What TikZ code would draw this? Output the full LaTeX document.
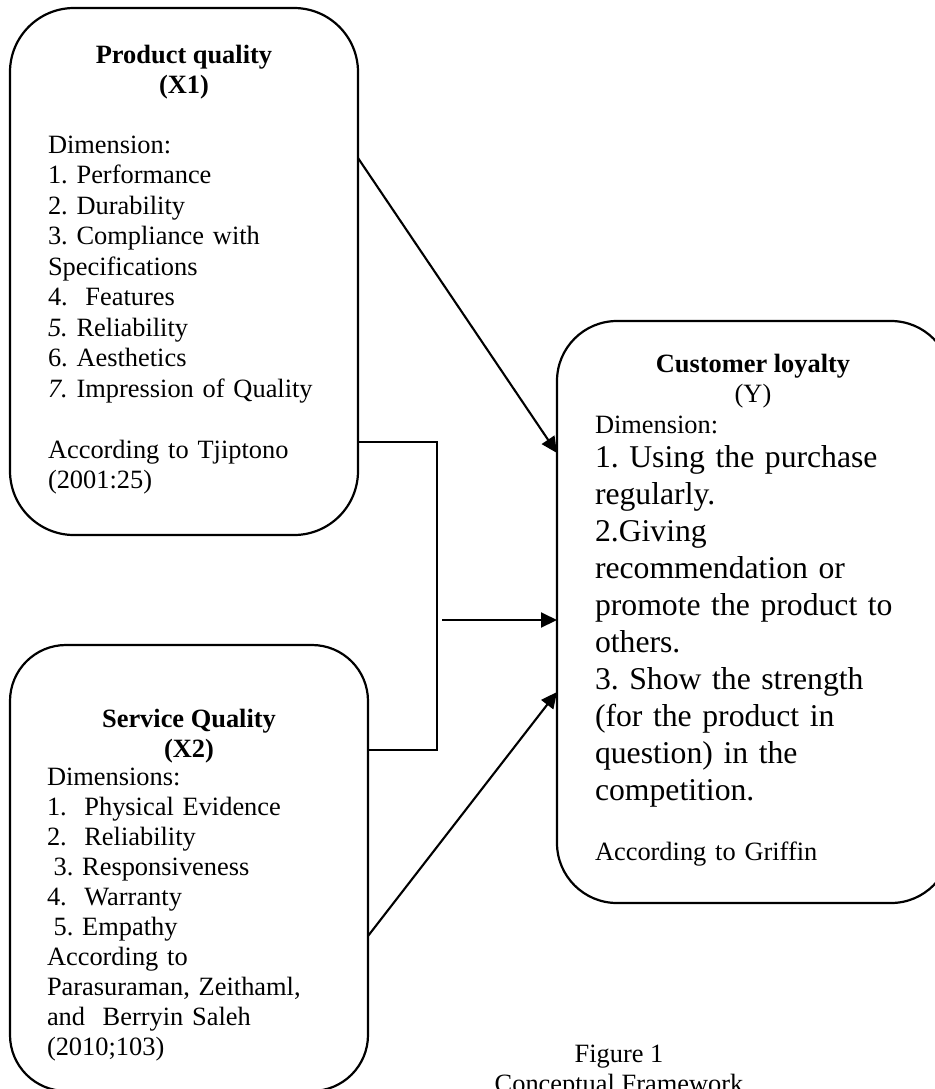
\documentclass[tikz,border=0pt]{standalone}
\usepackage{fontspec}
\setmainfont{Liberation Serif}
\usetikzlibrary{arrows.meta,calc}
\frenchspacing
\begin{document}
\begin{tikzpicture}[x=0.5pt,y=-0.5pt,
  box/.style={draw,line width=1.1pt,inner sep=0pt,outer sep=0pt,anchor=north west},
  sm/.style={font=\frenchspacing\fontsize{13.2pt}{15.25pt}\selectfont},
  smb/.style={font=\frenchspacing\fontsize{13.2pt}{15pt}\selectfont},
  lg/.style={font=\frenchspacing\fontsize{15.85pt}{18.5pt}\selectfont},
  txt/.style={inner sep=0pt,outer sep=0pt,anchor=base west,align=left,text width=175pt},
  ttl/.style={inner sep=0pt,outer sep=0pt,anchor=base},
  conn/.style={line width=0.95pt},
  arr/.style={line width=1.05pt,-{Triangle[length=8pt,width=7.5pt]}}]
\useasboundingbox (0,0) rectangle (934,1089);

% boxes
\node[box,minimum width=174pt,minimum height=263.5pt,rounded corners=32pt] (pq) at (10,8) {};
\node[box,minimum width=179pt,minimum height=223pt,rounded corners=28pt] (sq) at (10,645) {};
\node[box,minimum width=197pt,minimum height=291pt,rounded corners=30pt] (cl) at (557,321) {};

% Product quality
\node[ttl,sm] (pqt1) at (184,63) {\textbf{Product quality}};
\node[ttl,sm] (pqt2) at (184,93) {\textbf{(X1)}};
\node[txt,sm] (pql) at (48,153) {Dimension:\\1. Performance\\2. Durability\\3. Compliance with\\Specifications\\4.~~Features\\\textit{5.} Reliability\\6. Aesthetics\\\textit{7.} Impression of Quality};
\node[txt,sm] (pqs) at (48,458) {According to Tjiptono\\(2001:25)};

% Service quality
\node[ttl,sm] (sqt1) at (189,727) {\textbf{Service Quality}};
\node[ttl,sm] (sqt2) at (189,757) {\textbf{(X2)}};
\node[txt,smb] (sql) at (47,785) {Dimensions:\\1.~~Physical Evidence\\2.~~Reliability\\\hspace*{0.25em}3. Responsiveness\\4.~~Warranty\\\hspace*{0.25em}5. Empathy\\According to\\Parasuraman, Zeithaml,\\and~~Berryin Saleh\\(2010;103)};

% Customer loyalty
\node[ttl,sm] (clt1) at (753,372) {\textbf{Customer loyalty}};
\node[ttl,sm] (clt2) at (753,402) {(Y)};
\node[txt,sm] (cld) at (595,433) {Dimension:};
\node[txt,lg] (cll) at (595,467) {1. Using the purchase\\regularly.\\2.Giving\\recommendation or\\promote the product to\\others.\\3. Show the strength\\(for the product in\\question) in the\\competition.};
\node[txt,sm] (clg) at (595,860) {According to Griffin};

% caption
\node[ttl,sm] (fig1) at (619,1062) {Figure 1};
\node[ttl,sm] (fig2) at (619,1092) {Conceptual Framework};

% connectors
\draw[arr] ($(pq.north east)+(0,150)$) -- ($(cl.north west)+(0,132)$);
\draw[conn] ($(pq.north east)+(0,434)$) -| ($(sq.north east)+(69,105)$) -- ($(sq.north east)+(0,105)$);
\coordinate (jn) at (442,620);
\draw[arr] (jn) -- ($(cl.north west)+(0,299)$);
\draw[arr] ($(sq.north east)+(0,291)$) -- ($(cl.north west)+(0,371)$);
\end{tikzpicture}
\end{document}
